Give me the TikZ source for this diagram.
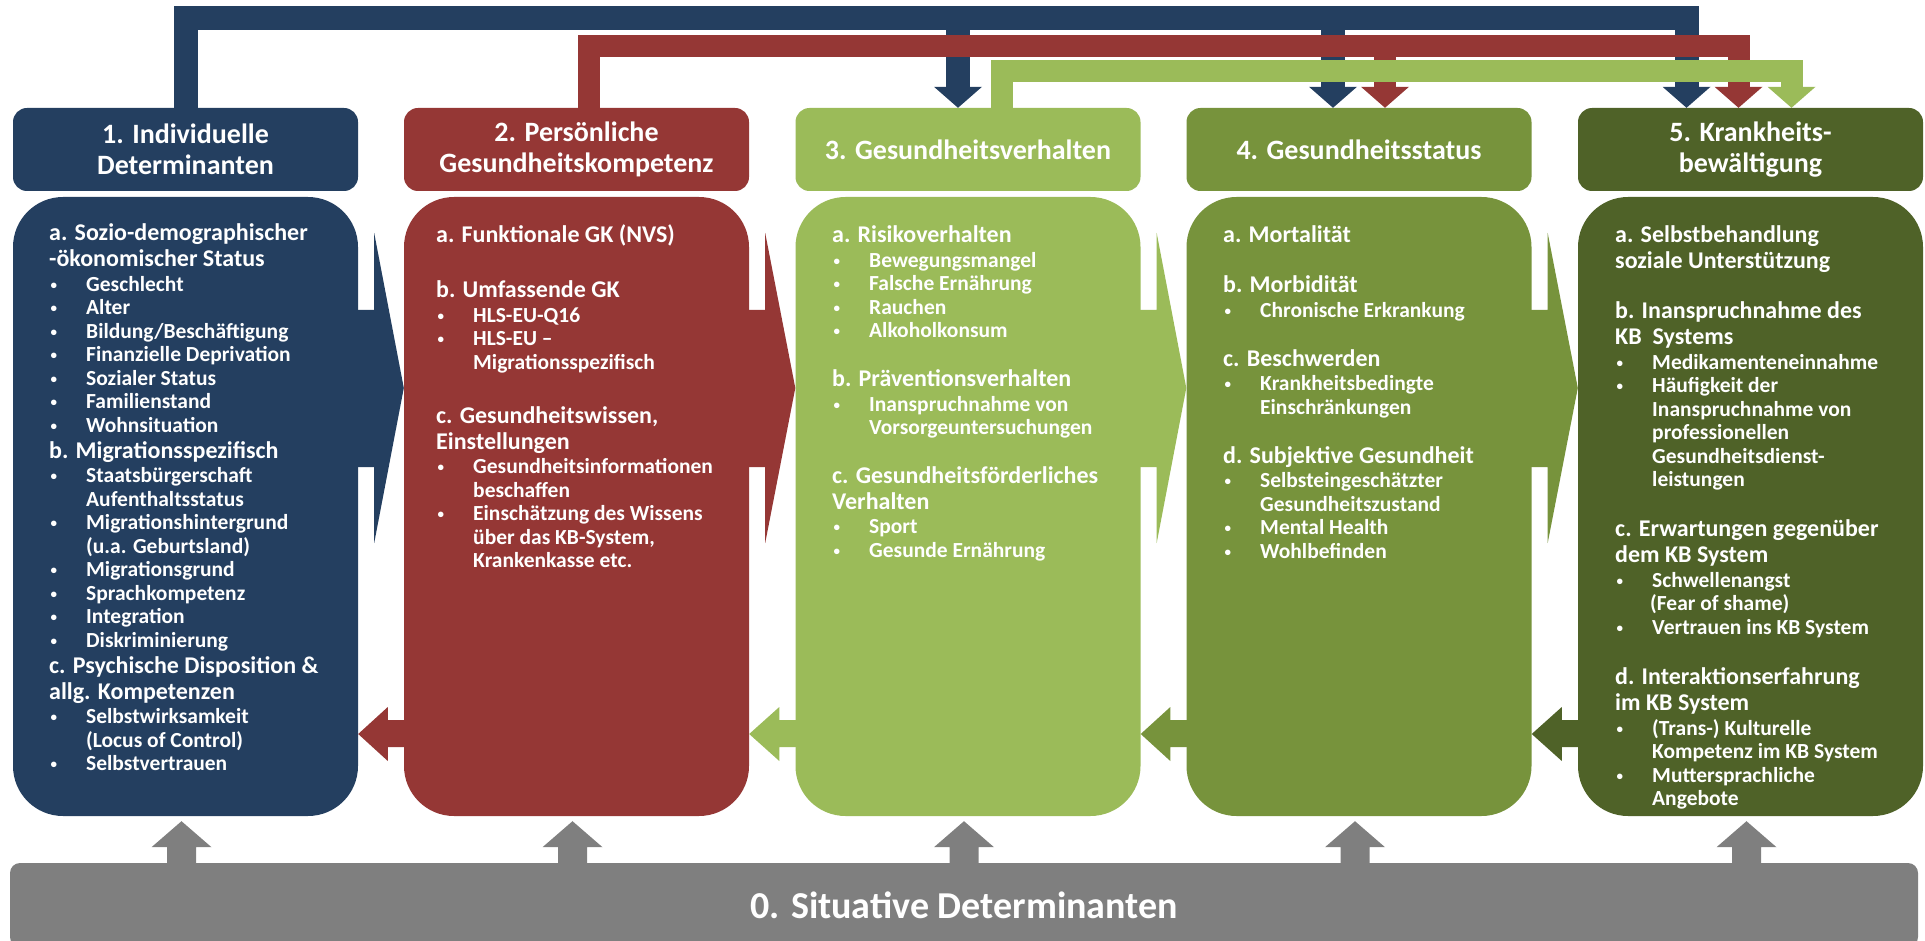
\documentclass[tikz,border=0pt]{standalone}
\usepackage{fontspec}
\setmainfont{Carlito}
\usetikzlibrary{calc}
\definecolor{cblue}{HTML}{243F60}
\definecolor{cred}{HTML}{953735}
\definecolor{clgreen}{HTML}{9BBB59}
\definecolor{cmgreen}{HTML}{77933C}
\definecolor{cdgreen}{HTML}{4F6228}
\definecolor{cgrey}{HTML}{7F7F7F}
\newcommand\Hd[1]{{\fontsize{24}{26}\selectfont\bfseries #1\par}\vspace{1pt}}
\newcommand\Bdot{\makebox[37pt][l]{\hspace{1.5pt}\raisebox{2.2pt}{\fontsize{13}{13}\selectfont•}}}
\newcommand\Bl[1]{{\fontsize{21.5}{23.5}\selectfont\bfseries\hangindent=37pt\hangafter=1\noindent\Bdot#1\par}}
\newcommand\Gap[1]{\vspace{#1pt}}
\newcommand\Txt[1]{\begin{minipage}[t]{400pt}\parindent=0pt\parfillskip=0pt plus 1fil #1\end{minipage}}
\tikzset{
  hdr/.style={rounded corners=14pt, inner sep=0pt, minimum width=345pt, minimum height=83pt,
    text=white, align=center, font={\fontsize{28}{31}\selectfont\bfseries}},
  bodybox/.style={rounded corners=50pt, inner sep=0pt, minimum width=345pt, minimum height=619pt},
  txt/.style={anchor=base west, inner sep=0pt, text=white},
}
\begin{document}
\begin{tikzpicture}[x=1pt,y=-1pt]
\useasboundingbox (0,0) rectangle (1925,941);
\clip (0,0) rectangle (1925,941);
% header boxes
\node[hdr, fill=cblue]   (h1) at (185.5,149.5) {1. Individuelle\\Determinanten};
\node[hdr, fill=cred]    (h2) at (576.5,149.5) {2. Persönliche\\Gesundheitskompetenz};
\node[hdr, fill=clgreen] (h3) at (968,149.5) {3. Gesundheitsverhalten};
\node[hdr, fill=cmgreen] (h4) at (1359,149.5) {4. Gesundheitsstatus};
\node[hdr, fill=cdgreen] (h5) at (1750.5,149.5) {5. Krankheits-\\bewältigung};
% body boxes
\node[bodybox, fill=cblue]   (b1) at (185.5,506.5) {};
\node[bodybox, fill=cred]    (b2) at (576.5,506.5) {};
\node[bodybox, fill=clgreen] (b3) at (968,506.5) {};
\node[bodybox, fill=cmgreen] (b4) at (1359,506.5) {};
\node[bodybox, fill=cdgreen] (b5) at (1750.5,506.5) {};
% bottom bar
\node[fill=cgrey, rounded corners=10pt, inner sep=0pt, minimum width=1908pt, minimum height=84pt,
  text=white, font={\fontsize{38}{40}\selectfont\bfseries}] (sit) at (964,905) {0. Situative Determinanten};
% forward arrows
\foreach \a/\b/\c in {b1/b2/cblue, b2/b3/cred, b3/b4/clgreen, b4/b5/cmgreen}{
  \fill[\c] ($(\a.east)+(-8,-196.5)$) -- ($(\a.east)+(16,-196.5)$) -- ($(\a.east)+(16,-273.5)$)
    -- ($(\b.west)+(0,-118.5)$) -- ($(\a.east)+(16,36.5)$) -- ($(\a.east)+(16,-39.5)$)
    -- ($(\a.east)+(-8,-39.5)$) -- cycle;
}
% backward arrows
\foreach \a/\b/\c in {b1/b2/cred, b2/b3/clgreen, b3/b4/cmgreen, b4/b5/cdgreen}{
  \fill[\c] ($(\b.west)+(8,213.5)$) -- ($(\b.west)+(-16,213.5)$) -- ($(\b.west)+(-16,200.5)$)
    -- ($(\a.east)+(0,227.5)$) -- ($(\b.west)+(-16,254.5)$) -- ($(\b.west)+(-16,240.5)$)
    -- ($(\b.west)+(8,240.5)$) -- cycle;
}
% up arrows from the bar
\foreach \a in {b1,b2,b3,b4,b5}{
  \fill[cgrey] ($(\a.south)+(-4,5)$) -- ++(30,26) -- ++(-15.5,0) -- ++(0,20) -- ++(-29,0)
    -- ++(0,-20) -- ++(-15.5,0) -- cycle;
}
% top connectors
\coordinate (bt) at (0,18.5);
\coordinate (rt) at (0,46);
\coordinate (gt) at (0,71);
\coordinate (bd3) at ($(h3.north)+(-10,0)$);
\coordinate (bd4) at ($(h4.north)+(-26,0)$);
\coordinate (bd5) at ($(h5.north)+(-64,0)$);
\coordinate (rs)  at ($(h2.north)+(12,2)$);
\coordinate (rd4) at ($(h4.north)+(26,0)$);
\coordinate (rd5) at ($(h5.north)+(-12,0)$);
\coordinate (gs)  at ($(h3.north)+(34,2)$);
\coordinate (gd5) at ($(h5.north)+(41,0)$);
% blue
\draw[cblue, line width=24pt] ($(h1.north)+(0,2)$) -- (h1.north |- bt) -- (bd5 |- bt) -- ($(bd5)+(0,-21)$);
\draw[cblue, line width=24pt] (bd3 |- bt) -- ($(bd3)+(0,-21)$);
\draw[cblue, line width=24pt] (bd4 |- bt) -- ($(bd4)+(0,-21)$);
\foreach \p in {bd3,bd4,bd5}{\fill[cblue] ($(\p)+(-24,-21)$) -- ($(\p)+(24,-21)$) -- (\p) -- cycle;}
% red
\draw[cred, line width=22pt] (rs) -- (rs |- rt) -- (rd5 |- rt) -- ($(rd5)+(0,-21)$);
\draw[cred, line width=22pt] (rd4 |- rt) -- ($(rd4)+(0,-21)$);
\foreach \p in {rd4,rd5}{\fill[cred] ($(\p)+(-24,-21)$) -- ($(\p)+(24,-21)$) -- (\p) -- cycle;}
% green
\draw[clgreen, line width=22pt] (gs) -- (gs |- gt) -- (gd5 |- gt) -- ($(gd5)+(0,-21)$);
\fill[clgreen] ($(gd5)+(-24,-21)$) -- ($(gd5)+(24,-21)$) -- (gd5) -- cycle;
% texts
\node[txt] (t1) at (49,241) {\Txt{%
\Hd{a. Sozio-demographischer\\-ökonomischer Status}
\Bl{Geschlecht}
\Bl{Alter}
\Bl{Bildung/Beschäftigung}
\Bl{Finanzielle Deprivation}
\Bl{Sozialer Status}
\Bl{Familienstand}
\Bl{Wohnsituation}
\Hd{b. Migrationsspezifisch}
\Bl{Staatsbürgerschaft\\Aufenthaltsstatus}
\Bl{Migrationshintergrund\\(u.a. Geburtsland)}
\Bl{Migrationsgrund}
\Bl{Sprachkompetenz}
\Bl{Integration}
\Bl{Diskriminierung}
\Hd{c. Psychische Disposition \&\\allg. Kompetenzen}
\Bl{Selbstwirksamkeit\\(Locus of Control)}
\Bl{Selbstvertrauen}}};
\node[txt] (t2) at (436,243) {\Txt{%
\Hd{a. Funktionale GK (NVS)}
\Gap{28}
\Hd{b. Umfassende GK}
\Bl{HLS-EU-Q16}
\Bl{HLS-EU –\\Migrationsspezifisch}
\Gap{28}
\Hd{c. Gesundheitswissen,\\Einstellungen}
\Bl{Gesundheitsinformationen\\beschaffen}
\Bl{Einschätzung des Wissens\\über das KB-System,\\Krankenkasse etc.}}};
\node[txt] (t3) at (832,243) {\Txt{%
\Hd{a. Risikoverhalten}
\Bl{Bewegungsmangel}
\Bl{Falsche Ernährung}
\Bl{Rauchen}
\Bl{Alkoholkonsum}
\Gap{23}
\Hd{b. Präventionsverhalten}
\Bl{Inanspruchnahme von\\Vorsorgeuntersuchungen}
\Gap{22.5}
\Hd{c. Gesundheitsförderliches\\Verhalten}
\Bl{Sport}
\Bl{Gesunde Ernährung}}};
\node[txt] (t4) at (1223,243) {\Txt{%
\Hd{a. Mortalität}
\Gap{23}
\Hd{b. Morbidität}
\Bl{Chronische Erkrankung}
\Gap{23}
\Hd{c. Beschwerden}
\Bl{Krankheitsbedingte\\Einschränkungen}
\Gap{23}
\Hd{d. Subjektive Gesundheit}
\Bl{Selbsteingeschätzter\\Gesundheitszustand}
\Bl{Mental Health}
\Bl{Wohlbefinden}}};
\node[txt] (t5) at (1615,243) {\Txt{%
\Hd{a. Selbstbehandlung\\soziale Unterstützung}
\Gap{23}
\Hd{b. Inanspruchnahme des\\KB\ \ Systems}
\Bl{Medikamenteneinnahme}
\Bl{Häufigkeit der\\Inanspruchnahme von\\professionellen\\Gesundheitsdienst-\\leistungen}
\Gap{24}
\Hd{c. Erwartungen gegenüber\\dem KB System}
\Bl{Schwellenangst\\\hspace*{-2pt}(Fear of shame)}
\Bl{Vertrauen ins KB System}
\Gap{24.5}
\Hd{d. Interaktionserfahrung\\im KB System}
\Bl{(Trans-) Kulturelle\\Kompetenz im KB System}
\Bl{Muttersprachliche\\Angebote}}};
\end{tikzpicture}
\end{document}
